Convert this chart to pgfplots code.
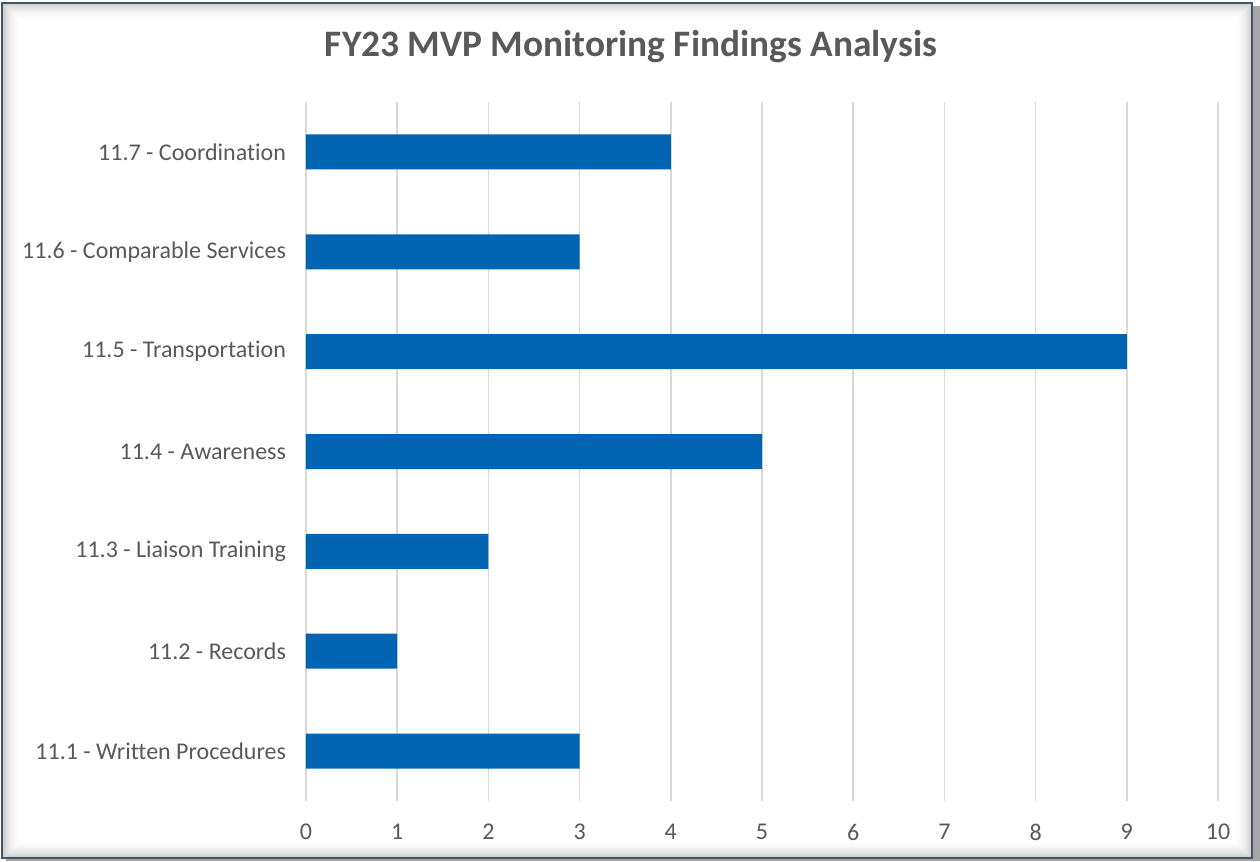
\documentclass[border=0pt]{standalone}
\usepackage{fontspec}
\setmainfont{Carlito}[Ligatures=NoCommon]
\usepackage{pgfplots}
\pgfplotsset{compat=1.18}
\definecolor{barblue}{HTML}{0064B2}
\definecolor{txtgray}{HTML}{595959}
\definecolor{gridgray}{HTML}{D9D9D9}
\definecolor{framecol}{HTML}{44546A}
\begin{document}
\begin{tikzpicture}[x=0.75pt,y=0.75pt]
\path[use as bounding box] (0,0) rectangle (1260,861);
% outer shadow
\fill[gray!70] (6,0) rectangle (1260,855);
\fill[white] (2,3) rectangle (1252,858);
% inner shadow
\foreach \i in {1,...,18}{
  \pgfmathsetmacro\op{0.22*(1-\i/19)^2}
  \draw[black, opacity=\op, line width=0.75pt] (2+\i,3+\i) rectangle (1252-\i,858-\i);
}
\draw[framecol, line width=1.5pt] (2,3) rectangle (1252,858);
\node[font=\fontsize{28}{32}\selectfont\bfseries, text=txtgray] at (631,814) {FY23 MVP Monitoring Findings Analysis};
\begin{axis}[
  at={(229.5pt,45pt)}, anchor=south west,
  scale only axis, width=684pt, height=524.25pt,
  xbar, xmin=0, xmax=10, ymin=0.5, ymax=7.5,
  xtick={0,1,...,10}, ytick={1,2,...,7},
  yticklabels={11.1 - Written Procedures, 11.2 - Records, 11.3 - Liaison Training, 11.4 - Awareness, 11.5 - Transportation, 11.6 - Comparable Services, 11.7 - Coordination},
  bar width=26.25pt,
  axis line style={draw=none},
  major tick length=0pt,
  xmajorgrids, grid style={gridgray, line width=1.1pt},
  tick label style={font=\fontsize{18}{22}\selectfont, text=txtgray},
  /pgf/number format/assume math mode=true,
  xticklabel style={yshift=-14pt},
  yticklabel style={xshift=-11.5pt},
]
\addplot[fill=barblue, draw=none] coordinates {(3,1) (1,2) (2,3) (5,4) (9,5) (3,6) (4,7)};
\end{axis}
\end{tikzpicture}
\end{document}
